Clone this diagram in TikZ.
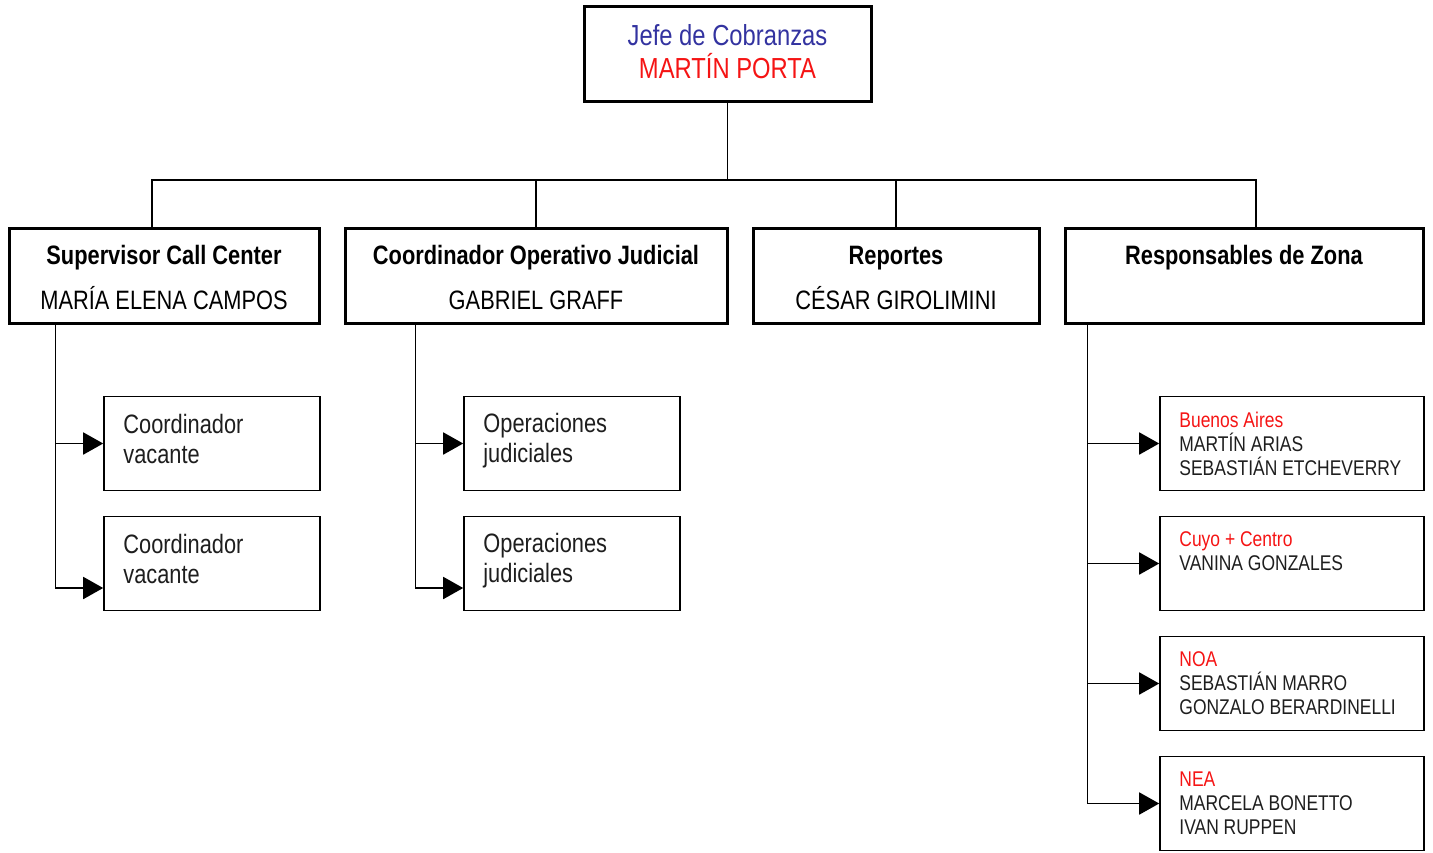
\documentclass[tikz,border=0pt]{standalone}
\usepackage{fontspec}
\setmainfont{Liberation Sans}[FakeStretch=0.82]
\usetikzlibrary{arrows.meta}
\definecolor{jefeblue}{RGB}{51,51,160}
\definecolor{zonered}{RGB}{245,20,20}
\definecolor{ink}{RGB}{30,30,30}
\newcommand{\lvlup}{\rule{0pt}{24pt}}
\begin{document}
\begin{tikzpicture}[x=1pt,y=-1pt,
  topbox/.style={draw, line width=3pt, minimum width=287pt, minimum height=95pt, inner sep=0pt, align=center, font=\fontsize{29}{33}\selectfont},
  lvlbox/.style={draw, line width=3pt, minimum height=95pt, inner sep=0pt, align=center, font=\fontsize{26.6}{45}\selectfont},
  leafbox/.style={draw, line width=1.6pt, minimum height=94pt, inner sep=0pt},
  ltxt/.style={anchor=west, align=left, inner sep=0pt, font=\fontsize{26.6}{30}\selectfont, text=ink},
  rtxt/.style={anchor=west, align=left, inner sep=0pt, font=\fontsize{21.3}{24}\selectfont, text=ink},
  conn/.style={line width=1.8pt},
  arr/.style={conn, -{Triangle[length=20pt,width=22pt]}}
]
\useasboundingbox (0,0) rectangle (1433,852);

% top
\node[topbox] (top) at (727.5,53.5) {\textcolor{jefeblue}{Jefe de Cobranzas}\\\textcolor{zonered}{MARTÍN PORTA}\rule[-4pt]{0pt}{1pt}};

% level 2
\node[lvlbox, minimum width=310pt] (b1) at (164,275.5) {\lvlup\textbf{Supervisor Call Center}\\MARÍA ELENA CAMPOS};
\node[lvlbox, minimum width=382pt] (b2) at (536,275.5) {\lvlup\textbf{Coordinador Operativo Judicial}\\GABRIEL GRAFF};
\node[lvlbox, minimum width=286pt] (b3) at (896,275.5) {\lvlup\textbf{Reportes}\\CÉSAR GIROLIMINI};
\node[lvlbox, minimum width=358pt] (b4) at (1244,275.5) {\lvlup\textbf{Responsables de Zona}\\\phantom{CÉSAR}};

% bus
\coordinate (bus) at (728,180);
\draw[conn] (top.south) -- (top.south |- bus);
\draw[conn] ([xshift=-12pt]b1.north) -- ([xshift=-12pt]b1.north |- bus) -- ([xshift=12pt]b4.north |- bus) -- ([xshift=12pt]b4.north);
\draw[conn] (b2.north) -- (b2.north |- bus);
\draw[conn] (b3.north) -- (b3.north |- bus);

% column 1
\node[leafbox, minimum width=216pt] (c11) at (212,443.5) {};
\node[leafbox, minimum width=216pt] (c12) at (212,563.5) {};
\node[ltxt] (t11) at ([xshift=20pt,yshift=5pt]c11.west) {Coordinador\\vacante};
\node[ltxt] (t12) at ([xshift=20pt,yshift=5pt]c12.west) {Coordinador\\vacante};
\coordinate (s1) at ([xshift=48pt]b1.south west);
\draw[arr] (s1 |- c11.west) -- (c11.west);
\draw[arr] (s1) |- ([yshift=-24.5pt]c12.west);

% column 2
\node[leafbox, minimum width=216pt] (c21) at (572,443.5) {};
\node[leafbox, minimum width=216pt] (c22) at (572,563.5) {};
\node[ltxt] (t21) at ([xshift=20pt,yshift=3pt]c21.west) {Operaciones\\judiciales};
\node[ltxt] (t22) at ([xshift=20pt,yshift=3pt]c22.west) {Operaciones\\judiciales};
\coordinate (s2) at ([xshift=72pt]b2.south west);
\draw[arr] (s2 |- c21.west) -- (c21.west);
\draw[arr] (s2) |- ([yshift=-24.5pt]c22.west);

% column 4
\node[leafbox, minimum width=264pt] (r1) at (1292,443.5) {};
\node[leafbox, minimum width=264pt] (r2) at (1292,563.5) {};
\node[leafbox, minimum width=264pt] (r3) at (1292,683.5) {};
\node[leafbox, minimum width=264pt] (r4) at (1292,803.5) {};
\node[rtxt] (u1) at ([xshift=20pt]r1.west) {\textcolor{zonered}{Buenos Aires}\\MARTÍN ARIAS\\SEBASTIÁN ETCHEVERRY};
\node[rtxt] (u2) at ([xshift=20pt,yshift=12pt]r2.west) {\textcolor{zonered}{Cuyo + Centro}\\VANINA GONZALES};
\node[rtxt] (u3) at ([xshift=20pt]r3.west) {\textcolor{zonered}{NOA}\\SEBASTIÁN MARRO\\GONZALO BERARDINELLI};
\node[rtxt] (u4) at ([xshift=20pt]r4.west) {\textcolor{zonered}{NEA}\\MARCELA BONETTO\\IVAN RUPPEN};
\coordinate (s4) at ([xshift=24pt]b4.south west);
\draw[arr] (s4 |- r1.west) -- (r1.west);
\draw[arr] (s4 |- r2.west) -- (r2.west);
\draw[arr] (s4 |- r3.west) -- (r3.west);
\draw[arr] (s4) |- (r4.west);
\end{tikzpicture}
\end{document}
